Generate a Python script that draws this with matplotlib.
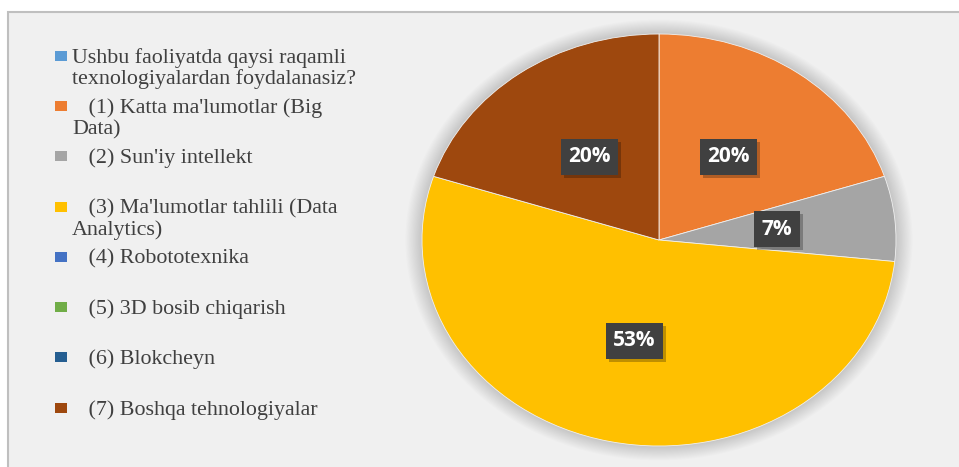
import matplotlib
matplotlib.use("Agg")
import matplotlib.pyplot as plt
from matplotlib.patches import Rectangle, Ellipse
from matplotlib.transforms import IdentityTransform

# legend entries (the first one is the question itself, with no answers)
labels = [
    "Ushbu faoliyatda qaysi raqamli\ntexnologiyalardan foydalanasiz?",
    "   (1) Katta ma'lumotlar (Big\nData)",
    "   (2) Sun'iy intellekt",
    "   (3) Ma'lumotlar tahlili (Data\nAnalytics)",
    "   (4) Robototexnika",
    "   (5) 3D bosib chiqarish",
    "   (6) Blokcheyn",
    "   (7) Boshqa tehnologiyalar",
]
counts = [0, 3, 1, 8, 0, 0, 0, 3]
colors = ["#5B9BD5", "#ED7D31", "#A5A5A5", "#FFC000",
          "#4472C4", "#70AD47", "#255E91", "#9E480E"]

W, H = 959, 467
fig = plt.figure(figsize=(W / 100, H / 100), dpi=100)
fig.patch.set_facecolor("white")

# chart area panel
fig.patches.append(Rectangle((8 / W, -0.2), 1.2, 0.2 + (H - 12) / H,
                             transform=fig.transFigure, facecolor="#F0F0F0",
                             edgecolor="#BFBFBF", linewidth=1.5, zorder=-10))

# pie axes (stretched, so the pie is an ellipse)
ax = fig.add_axes([422 / W, (H - 446) / H, 474 / W, 412 / H])
ax.patch.set_visible(False)

# soft glow behind the pie
for i in range(14):
    s = 1.0 + 0.005 * (i + 1)
    ax.add_patch(Ellipse((0, 0), 2 * s, 2 * s, facecolor="black",
                         edgecolor="none", alpha=0.012, clip_on=False, zorder=0))

vals = [c for c in counts if c > 0]
cols = [col for c, col in zip(counts, colors) if c > 0]
wedges, texts, autotexts = ax.pie(vals, colors=cols, startangle=90, counterclock=False,
                                  autopct=lambda p: "%d%%" % round(p), pctdistance=0.5,
                                  wedgeprops=dict(linewidth=0.6, edgecolor="#F0F0F0"),
                                  frame=False)
for w in wedges:
    w.set_zorder(2)

for t in autotexts:
    t.set_fontsize(15)
    t.set_family("Open Sans")
    t.set_weight("bold")
    t.set_color("white")
    t.set_bbox(dict(boxstyle="square,pad=0.36", facecolor="#404040", edgecolor="none"))
    t.set_zorder(5)

ax.set_xlim(-1, 1)
ax.set_ylim(-1, 1)
ax.set_aspect("auto")
ax.axis("off")

# legend drawn by hand
y0, step, lstep = 55.7, 50.3, 21
for i, (lab, col) in enumerate(zip(labels, colors)):
    yc = y0 + i * step
    fig.patches.append(Rectangle((55 / W, (H - yc - 5) / H), 12 / W, 10 / H,
                                 transform=fig.transFigure, facecolor=col,
                                 edgecolor="none", zorder=3))
    for k, line in enumerate(lab.split("\n")):
        fig.text(72 / W, (H - yc - 7 - k * lstep) / H, line, ha="left", va="baseline",
                 fontsize=15.8, family="Liberation Serif", color="#404040")

# drop shadows of the label boxes
fig.canvas.draw()
for t in autotexts:
    bb = t.get_bbox_patch().get_window_extent()
    ax.add_patch(Rectangle((bb.x0 + 3, bb.y0 - 3), bb.width, bb.height,
                           transform=IdentityTransform(), facecolor="black",
                           edgecolor="none", alpha=0.25, zorder=4, clip_on=False))
ax.set_xlim(-1, 1)
ax.set_ylim(-1, 1)

fig.savefig("out.png", dpi=100, facecolor="white")
